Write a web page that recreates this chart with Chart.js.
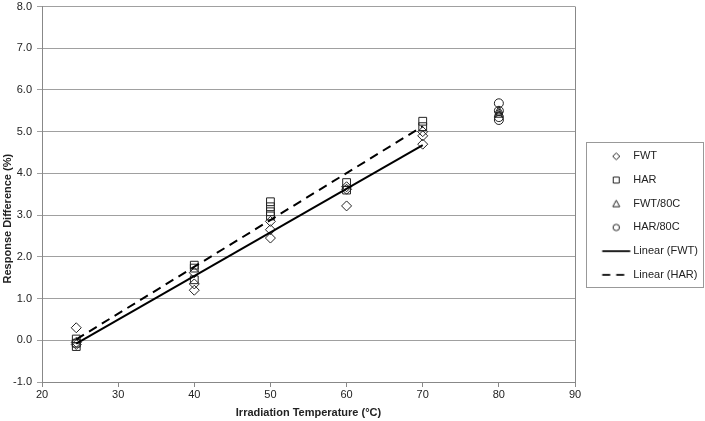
<!DOCTYPE html>
<html lang="en">
<head>
<meta charset="UTF-8">
<title>Response Difference vs Irradiation Temperature</title>
<script src="https://cdn.jsdelivr.net/npm/chart.js"></script>
<style>
  html, body { margin: 0; padding: 0; background: #fff; }
  .chart-box { position: relative; width: 705px; height: 421px; }
</style>
</head>
<body>
<div class="chart-box"><canvas id="chart"></canvas></div>
<script>
// values
var fwtTemp = [24.5, 24.5, 24.5, 40, 40, 40, 50, 50, 50, 60, 60, 60, 70, 70, 70];
var fwtDiff = [0.3, -0.05, -0.1, 1.62, 1.35, 1.2, 2.85, 2.65, 2.45, 3.68, 3.62, 3.22, 5.0, 4.9, 4.7];
var harTemp = [24.5, 24.5, 24.5, 40, 40, 40, 50, 50, 50, 50, 60, 60, 70, 70];
var harDiff = [0.03, -0.07, -0.15, 1.8, 1.73, 1.45, 3.32, 3.2, 3.08, 2.98, 3.78, 3.6, 5.25, 5.12];
var fwt80Temp = [80, 80, 80];
var fwt80Diff = [5.5, 5.45, 5.4];
var har80Temp = [80, 80, 80, 80];
var har80Diff = [5.68, 5.5, 5.35, 5.28];

// trendline ends
var fwtFitTemp = [24.5, 70];
var fwtFitDiff = [-0.08, 4.68];
var harFitTemp = [24.5, 70];
var harFitDiff = [0.02, 5.13];

var legendNames = ['FWT', 'HAR', 'FWT/80C', 'HAR/80C', 'Linear (FWT)', 'Linear (HAR)'];
var xTitle = 'Irradiation Temperature (°C)';
var yTitle = 'Response Difference (%)';

var xMin = 20, xMax = 90, xStep = 10;
var yMin = -1, yMax = 8, yStep = 1;

function pairs(xs, ys) {
    return xs.map(function (x, i) { return { x: x, y: ys[i] }; });
}

var ink = '#222';
var FONT = "'Liberation Sans', Arial, sans-serif";

// small pictures for the legend keys (centre of picture = centre of legend box)
function legendIcon(kind) {
    var c = document.createElement('canvas');
    c.width = 48; c.height = 12;
    var g = c.getContext('2d');
    g.strokeStyle = ink;
    g.lineWidth = 1;
    var mx = 32.5, my = 6;
    g.beginPath();
    if (kind === 'diamond') {
        g.moveTo(mx, my - 3.5); g.lineTo(mx + 3.5, my); g.lineTo(mx, my + 3.5); g.lineTo(mx - 3.5, my); g.closePath();
    } else if (kind === 'square') {
        g.rect(mx - 3, my - 3, 6, 6);
    } else if (kind === 'triangle') {
        g.moveTo(mx, my - 3.5); g.lineTo(mx + 3.5, my + 3); g.lineTo(mx - 3.5, my + 3); g.closePath();
    } else if (kind === 'circle') {
        g.arc(mx, my, 3.2, 0, Math.PI * 2);
    } else {
        g.lineWidth = 2;
        if (kind === 'dash') g.setLineDash([8, 6]);
        g.moveTo(18.5, my); g.lineTo(46.5, my);
    }
    g.stroke();
    return c;
}
var legendKinds = ['diamond', 'square', 'triangle', 'circle', 'solid', 'dash'];
var legendIcons = legendKinds.map(legendIcon);

// frame round the plot area, a box round the legend, and the y title
// (the y title sits a bit below the middle of the axis in the original)
var framePlugin = {
    id: 'frames',
    afterDraw: function (chart) {
        var ctx = chart.ctx, a = chart.chartArea;
        ctx.save();
        ctx.strokeStyle = '#888';
        ctx.lineWidth = 1;
        ctx.beginPath();
        ctx.moveTo(Math.round(a.right) + 0.5, a.top);
        ctx.lineTo(Math.round(a.right) + 0.5, a.bottom);
        ctx.stroke();

        var hb = chart.legend.legendHitBoxes;
        if (hb && hb.length) {
            var first = hb[0], last = hb[hb.length - 1];
            var x0 = first.left - 2, y0 = first.top - 9;
            var x1 = 703, y1 = last.top + last.height + 7;
            ctx.strokeStyle = '#999';
            ctx.strokeRect(Math.round(x0) + 0.5, Math.round(y0) + 0.5, Math.round(x1 - x0), Math.round(y1 - y0));
        }

        ctx.translate(8, a.top + (a.bottom - a.top) * 0.565);
        ctx.rotate(-Math.PI / 2);
        ctx.fillStyle = ink;
        ctx.font = 'bold 11px ' + FONT;
        ctx.textAlign = 'center';
        ctx.textBaseline = 'middle';
        ctx.fillText(yTitle, 0, 0);
        ctx.restore();
    }
};

var markerBase = {
    type: 'scatter',
    borderColor: ink,
    backgroundColor: 'rgba(255,255,255,0)',
    borderWidth: 1,
    order: 1
};

var ctx = document.getElementById('chart').getContext('2d');
var chart = new Chart(ctx, {
    type: 'scatter',
    data: {
        datasets: [
            Object.assign({}, markerBase, { label: legendNames[0], data: pairs(fwtTemp, fwtDiff), pointStyle: 'rectRot', pointRadius: 5 }),
            Object.assign({}, markerBase, { label: legendNames[1], data: pairs(harTemp, harDiff), pointStyle: 'rect', pointRadius: 5.5 }),
            Object.assign({}, markerBase, { label: legendNames[2], data: pairs(fwt80Temp, fwt80Diff), pointStyle: 'triangle', pointRadius: 4.5 }),
            Object.assign({}, markerBase, { label: legendNames[3], data: pairs(har80Temp, har80Diff), pointStyle: 'circle', pointRadius: 4.5 }),
            {
                type: 'line', label: legendNames[4], data: pairs(fwtFitTemp, fwtFitDiff),
                borderColor: '#000', borderWidth: 2, pointRadius: 0, fill: false, order: 0
            },
            {
                type: 'line', label: legendNames[5], data: pairs(harFitTemp, harFitDiff),
                borderColor: '#000', borderWidth: 2, borderDash: [9, 6], pointRadius: 0, fill: false, order: 0
            }
        ]
    },
    options: {
        responsive: true,
        maintainAspectRatio: false,
        animation: false,
        events: [],
        layout: { padding: { top: 0, right: -3, bottom: 0, left: 0 } },
        plugins: {
            tooltip: { enabled: false },
            legend: {
                position: 'right',
                align: 'center',
                title: { display: true, text: '', font: { size: 1 }, padding: { top: 9, bottom: 0 } },
                labels: {
                    usePointStyle: true,
                    pointStyleWidth: 40,
                    padding: 12.7,
                    color: ink,
                    font: { family: FONT, size: 11 },
                    sort: function (a, b) { return a.datasetIndex - b.datasetIndex; },
                    generateLabels: function (chart) {
                        return chart.data.datasets.map(function (ds, i) {
                            return {
                                text: ds.label,
                                datasetIndex: i,
                                pointStyle: legendIcons[i],
                                fillStyle: 'rgba(0,0,0,0)',
                                strokeStyle: 'rgba(0,0,0,0)',
                                lineWidth: 0,
                                fontColor: ink,
                                hidden: false
                            };
                        });
                    }
                }
            }
        },
        scales: {
            x: {
                type: 'linear',
                min: xMin, max: xMax,
                afterFit: function (scale) { scale.height = 39; },
                ticks: { stepSize: xStep, color: ink, padding: 1, font: { family: FONT, size: 11 } },
                grid: { drawOnChartArea: false, color: '#888', tickLength: 5 },
                border: { color: '#888' },
                title: {
                    display: true, text: xTitle, color: ink,
                    font: { family: FONT, size: 11, weight: 'bold' }, padding: { top: 0, bottom: 1 }
                }
            },
            y: {
                type: 'linear',
                min: yMin, max: yMax,
                afterFit: function (scale) {
                    scale.width = 42;
                    scale.paddingTop = 5;
                },
                ticks: {
                    stepSize: yStep, color: ink, padding: 5,
                    font: { family: FONT, size: 11, lineHeight: 1 },
                    callback: function (v) { return v.toFixed(1); }
                },
                grid: { color: '#a0a0a0', tickLength: 5 },
                border: { color: '#888' },
                title: { display: false }
            }
        }
    },
    plugins: [framePlugin]
});
</script>
</body>
</html>
